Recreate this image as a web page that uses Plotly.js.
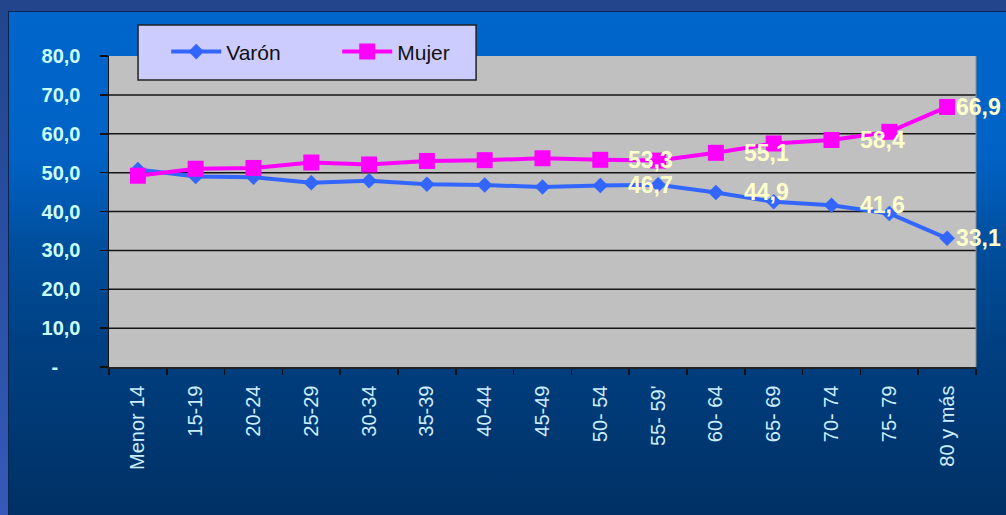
<!DOCTYPE html>
<html><head><meta charset="utf-8">
<script src="https://cdn.plot.ly/plotly-3.0.1.min.js"></script>
<style>
html,body{margin:0;padding:0;width:1006px;height:515px;overflow:hidden;background:linear-gradient(180deg,#22458c 0%,#2a4fa4 50%,#3459b8 100%);}
#bg{position:absolute;left:8px;top:11px;width:1010px;height:520px;border:1px solid #0b2550;background:linear-gradient(180deg,#0066cc 0%,#0062c4 28%,#004e9c 45%,#003f80 65%,#002f62 100%);}
#chart{position:absolute;left:0;top:0;width:1006px;height:515px;}
</style></head>
<body>
<div id="bg"></div>
<div id="chart"></div>
<script>
var categories = ["Menor 14","15-19","20-24","25-29","30-34","35-39","40-44","45-49","50- 54","55- 59'","60- 64","65- 69","70- 74","75- 79","80 y más"];
var varon = [50.8, 49.0, 48.8, 47.4, 47.9, 47.0, 46.8, 46.3, 46.7, 46.9, 44.9, 42.5, 41.6, 39.5, 33.1];
var mujer = [49.2, 51.0, 51.2, 52.6, 52.1, 53.0, 53.2, 53.7, 53.3, 53.1, 55.1, 57.5, 58.4, 60.5, 66.9];
var labeledCategories = ["50- 54","60- 64","70- 74","80 y más"];
var yTickVals = [0,10,20,30,40,50,60,70,80];
var yTickText = ["-\u00a0\u00a0\u00a0\u00a0","10,0","20,0","30,0","40,0","50,0","60,0","70,0","80,0"];
var seriesNames = ["Varón","Mujer"];

function fmt(v){ return v.toFixed(1).replace('.', ','); }

var traces = [
  {x: categories, y: varon, name: seriesNames[0], type: 'scatter', mode: 'lines+markers',
   line: {color: '#3366ff', width: 4}, marker: {symbol: 'diamond', size: 12, color: '#3366ff'}},
  {x: categories, y: mujer, name: seriesNames[1], type: 'scatter', mode: 'lines+markers',
   line: {color: '#ff00ff', width: 4}, marker: {symbol: 'square', size: 16, color: '#ff00ff'}}
];

var annotations = [];
[varon, mujer].forEach(function(series){
  categories.forEach(function(c, i){
    if (labeledCategories.indexOf(c) >= 0) {
      annotations.push({x: c, y: series[i], xref: 'x', yref: 'y', text: fmt(series[i]),
        showarrow: false, xanchor: 'left', yanchor: 'middle',
        xshift: (i === categories.length - 1) ? 7 : 26,
        font: {family: 'Arial, Liberation Sans, sans-serif', size: 23, color: '#ffffcc', weight: 'bold'}});
    }
  });
});

// horizontal gridlines (all interior tick values; none on the top edge)
var shapes = [];
yTickVals.forEach(function(v){
  if (v > yTickVals[0] && v < yTickVals[yTickVals.length - 1]) {
    shapes.push({type: 'line', xref: 'paper', yref: 'y', x0: 0, x1: 1, y0: v, y1: v,
      line: {color: '#151515', width: 1.5}, layer: 'below'});
  }
});
shapes.push({type: 'line', xref: 'paper', yref: 'paper', x0: 1, x1: 1, y0: 0, y1: 1,
  line: {color: '#8c8c8c', width: 1}, layer: 'below'});
shapes.push({type: 'rect', xref: 'paper', yref: 'paper', x0: 0.0335, x1: 0.4234, y0: 0.9228, y1: 1.0998,
  fillcolor: '#ccccff', line: {color: '#222', width: 1.5}, layer: 'above'});

var layout = {
  width: 1006, height: 515,
  margin: {l: 109, r: 30.3, t: 56, b: 148.3, pad: 0},
  paper_bgcolor: 'rgba(0,0,0,0)',
  plot_bgcolor: '#c0c0c0',
  showlegend: true,
  legend: {orientation: 'h', x: 0.066, xanchor: 'left', y: 1.013, yanchor: 'middle',
    bgcolor: 'rgba(0,0,0,0)', borderwidth: 0, itemwidth: 50,
    entrywidth: 106, entrywidthmode: 'pixels',
    font: {family: 'Arial, Liberation Sans, sans-serif', size: 21, color: '#111111'}},
  xaxis: {type: 'category', range: [-0.5, categories.length - 0.5], tickson: 'boundaries',
    ticks: 'outside', ticklen: 6, tickwidth: 1.5, tickcolor: '#111',
    showline: true, linecolor: '#222', linewidth: 1.5, showgrid: false, zeroline: false,
    tickangle: -90, ticklabelstandoff: 9,
    tickfont: {family: 'Arial, Liberation Sans, sans-serif', size: 20, color: '#cdeeff'}},
  yaxis: {range: [0, 80], tickvals: yTickVals, ticktext: yTickText,
    ticks: 'outside', ticklen: 8, tickwidth: 1.5, tickcolor: '#111',
    showline: true, linecolor: '#111', linewidth: 1.5,
    showgrid: false, zeroline: false,
    ticklabelstandoff: 15,
    tickfont: {family: 'Arial, Liberation Sans, sans-serif', size: 20, color: '#ccffff', weight: 'bold'}},
  shapes: shapes,
  annotations: annotations
};

Plotly.newPlot('chart', traces, layout, {displayModeBar: false, staticPlot: true});
</script>
</body></html>
